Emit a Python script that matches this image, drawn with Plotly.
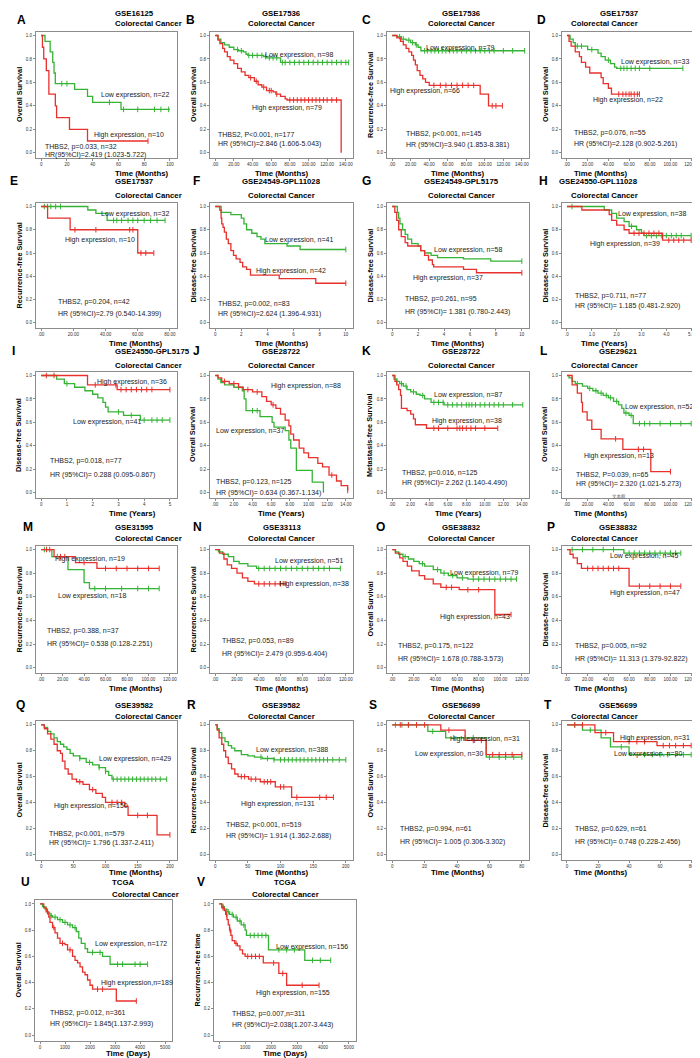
import plotly.graph_objects as go

# ---- survival step data: (time, survival) and censor times ----
A_low = [(0, 1), (3, .95), (7, .86), (9, .77), (10, .68), (11, .59), (26, .54), (36, .48), (40, .43), (62, .37), (100, .37)]
A_low_cens = [16, 20, 53, 64, 75, 88, 93, 99]
A_high = [(0, 1), (1, .9), (2, .8), (4, .7), (6, .5), (11, .4), (12, .3), (22, .2), (36, .1), (83, .1)]
A_high_cens = [83]

B_low = [(0, 1), (3, .97), (6, .94), (10, .92), (15, .9), (20, .88), (25, .87), (30, .86), (33, .84), (35, .83), (52, .82), (55, .81), (70, .77), (143, .77)]
B_low_cens = [24, 28, 36, 40, 45, 50, 54, 58, 62, 66, 72, 75, 80, 85, 90, 95, 100, 105, 110, 115, 120, 125, 130, 135, 140, 143]
B_high = [(0, 1), (3, .96), (5, .93), (8, .89), (10, .86), (13, .82), (16, .79), (20, .76), (24, .72), (28, .69), (32, .66), (36, .64), (42, .61), (46, .58), (50, .56), (55, .53), (62, .52), (65, .5), (70, .48), (75, .46), (77, .45), (135, .45), (135, 0)]
B_high_cens = [38, 44, 52, 58, 60, 66, 80, 84, 88, 92, 96, 100, 104, 108, 112, 116, 120, 125, 130]

C_low = [(0, 1), (5, .99), (10, .97), (15, .96), (20, .94), (25, .92), (28, .9), (31, .87), (143, .87)]
C_low_cens = [8, 12, 18, 22, 26, 35, 38, 42, 46, 50, 54, 58, 62, 66, 70, 75, 80, 85, 90, 95, 100, 105, 110, 120, 130, 143]
C_high = [(0, 1), (5, .98), (9, .95), (12, .92), (15, .89), (18, .86), (21, .83), (23, .79), (25, .75), (27, .7), (30, .66), (33, .63), (36, .6), (40, .575), (95, .575), (95, .5), (104, .4), (119, .4)]
C_high_cens = [45, 52, 58, 64, 70, 76, 82, 88, 108, 112, 119]

D_low = [(0, 1), (3, .97), (6, .94), (8, .91), (20, .88), (30, .85), (33, .82), (37, .79), (42, .76), (46, .73), (48, .72), (112, .72)]
D_low_cens = [10, 14, 24, 40, 52, 55, 58, 62, 66, 70, 80, 112]
D_high = [(0, 1), (2, .95), (4, .91), (8, .86), (12, .82), (14, .77), (18, .73), (22, .68), (33, .64), (35, .59), (40, .55), (43, .5), (70, .5)]
D_high_cens = [50, 54, 57, 60, 62, 65, 68, 70]

E_low = [(0, 1), (29, .97), (34, .94), (41, .88), (77, .88)]
E_low_cens = [2, 4, 6, 9, 12, 45, 47, 50, 54, 57, 60, 64, 68, 72, 77]
E_high = [(0, 1), (4, .9), (18, .8), (60, .6), (70, .6)]
E_high_cens = [21, 34, 55, 57, 62, 65, 70]

F_low = [(0, 1), (0.45, .95), (1.2, .93), (2, .9), (2.2, .85), (2.4, .8), (2.8, .77), (3.2, .74), (3.5, .72), (3.8, .68), (5.5, .66), (6.5, .63), (10, .63)]
F_low_cens = [10]
F_high = [(0, 1), (0.35, .97), (0.45, .9), (0.5, .85), (0.6, .82), (0.7, .78), (0.85, .72), (1.0, .68), (1.2, .62), (1.4, .58), (1.6, .55), (1.9, .52), (2.1, .48), (2.4, .46), (2.7, .41), (4.9, .38), (7.7, .34), (10, .34)]
F_high_cens = [10]

G_low = [(0, 1), (0.4, .95), (0.5, .9), (0.6, .85), (0.8, .8), (1, .76), (1.2, .72), (1.5, .68), (2, .66), (2.2, .62), (2.5, .6), (3, .58), (3.5, .56), (5.5, .55), (7.6, .53), (10, .53)]
G_low_cens = [10]
G_high = [(0, 1), (0.2, .95), (0.35, .88), (0.5, .8), (0.7, .74), (1.0, .69), (1.2, .66), (2.2, .62), (2.5, .58), (2.8, .54), (3.1, .5), (3.2, .48), (5.5, .46), (6.5, .43), (10, .43)]
G_high_cens = [10]

H_low = [(0, 1), (1.5, .97), (1.8, .94), (2.0, .9), (2.3, .87), (2.5, .83), (2.8, .8), (3.0, .77), (3.1, .75), (5, .75)]
H_low_cens = [0.2, 2.6, 3.2, 3.4, 3.6, 3.8, 4, 4.2, 4.4, 4.6, 5]
H_high = [(0, 1), (0.6, .97), (1.7, .93), (1.8, .88), (2.0, .84), (2.3, .8), (2.5, .77), (3.85, .71), (5, .71)]
H_high_cens = [2.7, 2.9, 3.1, 3.3, 3.5, 3.7, 4.1, 4.3, 4.5, 4.7, 5]

I_low = [(0, 1), (0.6, .97), (0.9, .93), (1.3, .9), (1.7, .87), (2, .84), (2.2, .81), (2.4, .77), (2.5, .73), (2.6, .69), (3.2, .66), (3.85, .62), (5, .62)]
I_low_cens = [1.0, 3.0, 3.5, 4.0, 4.3, 4.5, 4.7, 5]
I_high = [(0, 1), (1.8, .92), (2.95, .88), (5, .88)]
I_high_cens = [0.2, 0.5, 2.1, 2.9, 3.1, 3.3, 3.5, 3.7, 3.9, 4.1, 4.3, 5]

J_low = [(0, 1), (0.3, .97), (0.6, .94), (1, .92), (2, .9), (2.9, .87), (3.1, .8), (3.3, .7), (4.8, .65), (6.1, .6), (6.3, .56), (7.5, .53), (7.9, .45), (8.1, .38), (8.7, .19), (10.4, .09), (11.6, .0)]
J_low_cens = [2.5, 4, 4.5]
J_high = [(0, 1), (0.3, .98), (0.7, .95), (1.5, .93), (2.5, .9), (3, .88), (4, .86), (5, .82), (5.5, .78), (6, .75), (6.5, .72), (7, .67), (7.5, .62), (7.9, .57), (8.1, .5), (8.4, .45), (9, .38), (9.5, .34), (10, .3), (11, .25), (11.5, .22), (12.2, .15), (13, .1), (13.5, .06), (14.2, .02)]
J_high_cens = [1, 2, 3.5, 4.5, 6.2, 12.5, 14.2]

K_low = [(0, 1), (0.2, .97), (0.5, .95), (0.8, .93), (1.2, .91), (1.6, .88), (2, .86), (2.6, .84), (3, .83), (3.5, .8), (4.2, .77), (5.6, .75), (14.1, .75)]
K_low_cens = [0.5, 1, 1.5, 2.3, 3.3, 4.5, 5, 5.5, 6, 6.5, 7, 7.5, 8, 8.3, 8.6, 9, 9.5, 10, 10.5, 11, 11.5, 12, 13, 14.1]
K_high = [(0, 1), (0.3, .95), (0.5, .92), (0.7, .88), (0.9, .83), (1.0, .72), (1.6, .7), (2.0, .67), (2.3, .63), (2.5, .58), (3.7, .55), (11.4, .55)]
K_high_cens = [4.5, 5, 6, 7, 7.3, 7.6, 8, 8.5, 9, 10, 11.4]

L_low = [(0, 1), (2, .98), (5, .95), (8, .93), (15, .91), (20, .89), (25, .87), (30, .85), (35, .83), (40, .81), (45, .78), (50, .75), (53, .72), (55, .68), (60, .66), (64, .59), (120, .59)]
L_low_cens = [10, 22, 28, 33, 38, 42, 48, 57, 62, 70, 75, 80, 90, 100, 110, 120]
L_high = [(0, 1), (5, .92), (10, .85), (14, .77), (15, .69), (19.5, .62), (24, .54), (33, .46), (54, .37), (81, .18), (100, .18)]
L_high_cens = [47, 69, 74, 100]

M_low = [(0, 1), (10, .94), (25, .83), (40, .72), (45, .67), (110, .67)]
M_low_cens = [3, 15, 50, 60, 75, 90, 100, 110]
M_high = [(0, 1), (12, .94), (32, .89), (52, .84), (110, .84)]
M_high_cens = [5, 8, 18, 22, 40, 60, 70, 80, 90, 100, 110]

N_low = [(0, 1), (3, .98), (7, .96), (12, .94), (17, .9), (22, .88), (30, .86), (38, .84), (115, .84)]
N_low_cens = [40, 45, 50, 55, 60, 65, 70, 75, 80, 85, 90, 95, 100, 105, 115]
N_high = [(0, 1), (4, .97), (8, .92), (11, .87), (15, .84), (20, .8), (25, .76), (30, .73), (36, .71), (65, .71)]
N_high_cens = [40, 45, 50, 55, 60, 65]

O_low = [(0, 1), (3, .98), (6, .96), (10, .94), (15, .92), (20, .9), (25, .88), (30, .86), (38, .83), (45, .8), (52, .78), (60, .76), (70, .75), (115, .75)]
O_low_cens = [12, 28, 42, 48, 56, 65, 75, 80, 85, 90, 95, 100, 105, 110, 115]
O_high = [(0, 1), (3, .97), (7, .93), (10, .9), (14, .86), (18, .82), (25, .78), (30, .75), (38, .71), (45, .68), (62, .66), (95, .45), (110, .45)]
O_high_cens = [50, 55, 70, 80, 110]

P_low = [(0, 1), (55, .97), (110, .97)]
P_low_cens = [5, 15, 25, 35, 45, 60, 65, 70, 75, 80, 85, 90, 95, 100, 105, 110]
P_high = [(0, 1), (3, .96), (6, .93), (10, .88), (14, .84), (58, .84), (60, .69), (110, .69)]
P_high_cens = [20, 25, 30, 35, 40, 45, 50, 70, 80, 90, 100, 110]

Q_low = [(0, 1), (5, .98), (10, .95), (15, .93), (20, .9), (25, .87), (30, .85), (35, .83), (40, .81), (45, .78), (50, .76), (60, .74), (70, .71), (80, .69), (90, .67), (100, .64), (105, .61), (110, .58), (195, .58)]
Q_low_cens = [60, 75, 90, 100, 112, 118, 124, 130, 136, 142, 148, 154, 160, 166, 172, 178, 185, 195]
Q_high = [(0, 1), (5, .97), (10, .93), (15, .89), (20, .85), (25, .8), (30, .78), (33, .72), (37, .66), (42, .62), (48, .58), (55, .56), (65, .54), (75, .5), (85, .47), (95, .44), (100, .4), (130, .37), (135, .3), (180, .15), (200, .15)]
Q_high_cens = [60, 80, 110, 118, 125, 150, 165, 200]

R_low = [(0, 1), (3, .97), (6, .94), (10, .9), (15, .87), (20, .84), (25, .82), (30, .8), (40, .77), (50, .76), (60, .75), (72, .74), (90, .73), (200, .73)]
R_low_cens = [70, 80, 90, 100, 106, 112, 118, 124, 130, 136, 142, 148, 154, 160, 166, 172, 180, 190, 200]
R_high = [(0, 1), (3, .96), (6, .9), (10, .85), (13, .8), (16, .75), (20, .7), (25, .66), (30, .62), (35, .6), (51, .58), (69, .56), (92, .52), (117, .44), (181, .44)]
R_high_cens = [40, 45, 55, 62, 75, 80, 85, 100, 105, 125, 160, 170, 181]

S_low = [(0, 1), (22, .95), (33, .9), (58, .75), (80, .75)]
S_low_cens = [2, 6, 10, 15, 25, 38, 45, 50, 60, 66, 70, 75, 80]
S_high = [(0, 1), (30, .96), (45, .88), (58, .77), (80, .77)]
S_high_cens = [5, 10, 15, 20, 35, 50, 55, 62, 66, 70, 74, 80]

T_low = [(0, 1), (10, .96), (22, .9), (28, .83), (40, .77), (80, .77)]
T_low_cens = [5, 15, 35, 50, 55, 60, 65, 70, 75, 80]
T_high = [(0, 1), (18, .94), (30, .87), (58, .84), (80, .84)]
T_high_cens = [5, 10, 25, 40, 45, 50, 62, 66, 70, 75, 80]

U_low = [(0, 1), (100, .98), (200, .96), (300, .93), (400, .91), (500, .9), (700, .88), (900, .86), (1100, .84), (1300, .82), (1450, .79), (1550, .74), (1650, .7), (1800, .66), (1900, .63), (2500, .6), (2800, .54), (4300, .54)]
U_low_cens = [250, 450, 600, 800, 1000, 1200, 1400, 2100, 2400, 3100, 3300, 3800, 4000, 4300]
U_high = [(0, 1), (150, .97), (250, .94), (350, .9), (400, .86), (500, .82), (600, .78), (700, .74), (800, .7), (1000, .69), (1100, .65), (1300, .6), (1400, .57), (1500, .55), (1600, .52), (1700, .48), (1800, .46), (1900, .42), (2000, .38), (2100, .35), (3050, .26), (3850, .26)]
U_high_cens = [300, 550, 900, 1200, 2300, 2500, 3850]

V_low = [(0, 1), (100, .98), (200, .96), (300, .94), (400, .92), (550, .9), (700, .87), (850, .84), (1000, .8), (1050, .76), (1900, .65), (3300, .57), (4300, .57)]
V_low_cens = [150, 350, 500, 650, 800, 950, 1200, 1350, 1500, 1650, 1800, 2300, 2600, 2900, 3600, 3900, 4300]
V_high = [(0, 1), (100, .97), (200, .95), (250, .92), (300, .88), (350, .84), (400, .8), (450, .76), (500, .72), (600, .7), (700, .68), (800, .65), (900, .62), (1000, .6), (1700, .55), (2300, .47), (2600, .38), (3850, .38)]
V_high_cens = [150, 280, 420, 650, 1100, 1250, 1400, 1550, 2100, 2450, 3200, 3850]

letters = list("ABCDEFGHIJKLMNOPQRSTUV")
titles = ["GSE16125", "GSE17536", "GSE17536", "GSE17537", "GSE17537", "GSE24549-GPL11028",
          "GSE24549-GPL5175", "GSE24550-GPL11028", "GSE24550-GPL5175", "GSE28722", "GSE28722",
          "GSE29621", "GSE31595", "GSE33113", "GSE38832", "GSE38832", "GSE39582", "GSE39582",
          "GSE56699", "GSE56699", "TCGA", "TCGA"]
subtitle = "Colorectal Cancer"
ylabels = ["Overall Survival", "Overall Survival", "Recurrence-free Survival", "Overall Survival",
           "Recurrence-free Survival", "Disease-free Survival", "Disease-free Survival",
           "Disease-free Survival", "Disease-free Survival", "Overall Survival",
           "Metastasis-free Survival", "Overall Survival", "Recurrence-free Survival",
           "Recurrence-free Survival", "Overall Survival", "Disease-free Survival",
           "Overall Survival", "Recurrence-free Survival", "Overall Survival",
           "Disease-free Survival", "Overall Survival", "Recurrence-free time"]
xlabels = ["Time (Months)"] * 7 + ["Time (Years)"] * 4 + ["Time (Months)"] * 9 + ["Time (Days)"] * 2
low_texts = ["Low expression, n=22", "Low expression, n=98", "Low expression, n=79", "Low expression, n=33",
             "Low expression, n=32", "Low expression, n=41", "Low expression, n=58", "Low expression, n=38",
             "Low expression, n=41", "Low expression, n=37", "Low expression, n=87", "Low expression, n=52",
             "Low expression, n=18", "Low expression, n=51", "Low expression, n=79", "Low expression, n=45",
             "Low expression, n=429", "Low expression, n=388", "Low expression, n=30", "Low expression, n=30",
             "Low expression, n=172", "Low expression, n=156"]
high_texts = ["High expression, n=10", "High expression, n=79", "High expression, n=66", "High expression, n=22",
              "High expression, n=10", "High expression, n=42", "High expression, n=37", "High expression, n=39",
              "High expression, n=36", "High expression, n=88", "High expression, n=38", "High expression, n=13",
              "High expression, n=19", "High expression, n=38", "High expression, n=43", "High expression, n=47",
              "High expression, n=150", "High expression, n=131", "High expression, n=31", "High expression, n=31",
              "High expression,n=189", "High expression, n=155"]
stat_texts = ["THBS2, p=0.033, n=32", "THBS2, P<0.001, n=177", "THBS2, p<0.001, n=145", "THBS2, p=0.076, n=55",
              "THBS2, p=0.204, n=42", "THBS2, p=0.002, n=83", "THBS2, p=0.261, n=95", "THBS2, p=0.711, n=77",
              "THBS2, p=0.018, n=77", "THBS2, p=0.123, n=125", "THBS2, p=0.016, n=125", "THBS2, P=0.039, n=65",
              "THBS2, p=0.388, n=37", "THBS2, p=0.053, n=89", "THBS2, p=0.175, n=122", "THBS2, p=0.005, n=92",
              "THBS2, p<0.001, n=579", "THBS2, p<0.001, n=519", "THBS2, p=0.994, n=61", "THBS2, p=0.629, n=61",
              "THBS2, p=0.012, n=361", "THBS2, p=0.007,n=311"]
hr_texts = ["HR(95%CI)=2.419 (1.023-5.722)", "HR (95%CI)=2.846 (1.606-5.043)", "HR (95%CI)=3.940 (1.853-8.381)",
            "HR (95%CI)=2.128 (0.902-5.261)", "HR (95%CI)=2.79 (0.540-14.399)", "HR (95%CI)=2.624 (1.396-4.931)",
            "HR (95%CI)= 1.381 (0.780-2.443)", "HR (95%CI)= 1.185 (0.481-2.920)", "HR (95%CI)= 0.288 (0.095-0.867)",
            "HR (95%CI)= 0.634 (0.367-1.134)", "HR (95%CI)= 2.262 (1.140-4.490)", "HR (95%CI)= 2.320 (1.021-5.273)",
            "HR (95%CI)= 0.538 (0.128-2.251)", "HR (95%CI)= 2.479 (0.959-6.404)", "HR (95%CI)= 1.678 (0.788-3.573)",
            "HR (95%CI)= 11.313 (1.379-92.822)", "HR (95%CI)= 1.796 (1.337-2.411)", "HR (95%CI)= 1.914 (1.362-2.688)",
            "HR (95%CI)= 1.005 (0.306-3.302)", "HR (95%CI)= 0.748 (0.228-2.456)", "HR (95%CI)= 1.845(1.137-2.993)",
            "HR (95%CI)=2.038(1.207-3.443)"]
xtick_max = [100, 140, 140, 120, 80, 10, 10, 5, 5, 14, 14, 120, 120, 120, 120, 120, 200, 200, 80, 80, 5000, 5000]
xtick_step = [20, 20, 20, 20, 20, 2, 2, 1, 1, 2, 2, 20, 20, 20, 20, 20, 50, 50, 20, 20, 1000, 1000]
xtick_fmt = ["int", "dec2", "dec2", "dec2", "dec2", "int", "int", "dec1", "int", "dec2", "dec2", "dec2",
             "dec2", "dec2", "dec2", "dec2", "int", "int", "int", "int", "int", "int"]
ytick_vals = [0, 0.2, 0.4, 0.6, 0.8, 1.0]
ytick_text = ["0.0", "0.2", "0.4", "0.6", "0.8", "1.0"]

curves = [(A_low, A_low_cens, A_high, A_high_cens), (B_low, B_low_cens, B_high, B_high_cens),
          (C_low, C_low_cens, C_high, C_high_cens), (D_low, D_low_cens, D_high, D_high_cens),
          (E_low, E_low_cens, E_high, E_high_cens), (F_low, F_low_cens, F_high, F_high_cens),
          (G_low, G_low_cens, G_high, G_high_cens), (H_low, H_low_cens, H_high, H_high_cens),
          (I_low, I_low_cens, I_high, I_high_cens), (J_low, J_low_cens, J_high, J_high_cens),
          (K_low, K_low_cens, K_high, K_high_cens), (L_low, L_low_cens, L_high, L_high_cens),
          (M_low, M_low_cens, M_high, M_high_cens), (N_low, N_low_cens, N_high, N_high_cens),
          (O_low, O_low_cens, O_high, O_high_cens), (P_low, P_low_cens, P_high, P_high_cens),
          (Q_low, Q_low_cens, Q_high, Q_high_cens), (R_low, R_low_cens, R_high, R_high_cens),
          (S_low, S_low_cens, S_high, S_high_cens), (T_low, T_low_cens, T_high, T_high_cens),
          (U_low, U_low_cens, U_high, U_high_cens), (V_low, V_low_cens, V_high, V_high_cens)]

# ---- layout geometry (pixels) ----
W, H = 700, 1058
col_x = [(28, 169), (202, 345), (379, 521), (554, 690)]
title_dx = [6, 0, 3, 10]
row_y = [(24, 150), (195, 320), (364, 490), (538, 665), (713, 852), (892, 1033)]
gse_y = [5, 173, 343, 519, 697, 874]
cc_y = [15, 187, 357, 530, 708, 886]
letter_y = [12, 173, 343, 519, 697, 874]
letter_x = [13, 182, 358, 533, 6, 188, 358, 535, 5, 188, 358, 535, 20, 190, 372, 543, 12, 183, 365, 540, 17, 193]
# text anchors as fractions of each plot box: low(x,y), high(x,y), stat(x,y), hr y
txt_pos = [(0.45, 0.50, 0.40, 0.18, 0.05, 0.09, 0.025), (0.37, 0.82, 0.28, 0.40, 0.04, 0.19, 0.11),
           (0.26, 0.875, 0.01, 0.53, 0.12, 0.19, 0.10), (0.42, 0.76, 0.21, 0.46, 0.07, 0.195, 0.11),
           (0.45, 0.91, 0.19, 0.70, 0.14, 0.21, 0.11), (0.37, 0.70, 0.31, 0.46, 0.04, 0.195, 0.11),
           (0.32, 0.62, 0.17, 0.40, 0.11, 0.23, 0.13), (0.40, 0.91, 0.19, 0.67, 0.08, 0.26, 0.18),
           (0.25, 0.60, 0.42, 0.92, 0.085, 0.29, 0.18), (0.03, 0.53, 0.41, 0.89, 0.03, 0.13, 0.04),
           (0.32, 0.82, 0.30, 0.61, 0.09, 0.20, 0.12), (0.45, 0.72, 0.15, 0.33, 0.09, 0.19, 0.115),
           (0.14, 0.61, 0.12, 0.90, 0.065, 0.33, 0.23), (0.44, 0.88, 0.47, 0.70, 0.07, 0.25, 0.15),
           (0.43, 0.79, 0.36, 0.44, 0.06, 0.21, 0.11), (0.34, 0.92, 0.34, 0.63, 0.08, 0.21, 0.11),
           (0.43, 0.73, 0.11, 0.39, 0.08, 0.19, 0.12), (0.31, 0.79, 0.20, 0.40, 0.10, 0.25, 0.17),
           (0.18, 0.76, 0.43, 0.87, 0.08, 0.22, 0.13), (0.37, 0.76, 0.41, 0.88, 0.08, 0.22, 0.13),
           (0.42, 0.69, 0.47, 0.41, 0.095, 0.20, 0.12), (0.42, 0.67, 0.28, 0.34, 0.11, 0.19, 0.11)]

GREEN = "#35b335"
RED = "#e8302c"
FONT = "Liberation Sans, Arial, sans-serif"


def step_at(pairs, t):
    y = pairs[0][1]
    for tt, s in pairs:
        if tt <= t:
            y = s
    return y


def fmt_tick(v, style):
    if style == "dec2":
        return ".00" if v == 0 else f"{v:.2f}"
    if style == "dec1":
        return ".0" if v == 0 else f"{v:.1f}"
    return str(int(v))


fig = go.Figure()
annotations = []
layout = {}

for i in range(22):
    n = i + 1
    xa = "x" if n == 1 else f"x{n}"
    ya = "y" if n == 1 else f"y{n}"
    row = i // 4
    col = i % 4
    if row == 5:
        l, r = [(27, 164), (206, 348)][col]
    else:
        l, r = col_x[col]
    t, b = row_y[row]

    low, low_c, high, high_c = curves[i]
    for pairs, cens, c in [(low, low_c, GREEN), (high, high_c, RED)]:
        fig.add_trace(go.Scatter(x=[p[0] for p in pairs], y=[p[1] for p in pairs], mode="lines",
                                 line=dict(color=c, width=1.3, shape="hv"),
                                 xaxis=xa, yaxis=ya, showlegend=False, hoverinfo="skip"))
        fig.add_trace(go.Scatter(x=cens, y=[step_at(pairs, ct) for ct in cens], mode="markers",
                                 marker=dict(symbol="line-ns-open", size=4, color=c,
                                             line=dict(color=c, width=1)),
                                 xaxis=xa, yaxis=ya, showlegend=False, hoverinfo="skip"))

    xmax = xtick_max[i]
    tv = [k * xtick_step[i] for k in range(int(round(xmax / xtick_step[i])) + 1)]
    axis_common = dict(showline=True, mirror=True, linecolor="#8c8c8c", linewidth=1, ticks="outside",
                       ticklen=2, tickcolor="#8c8c8c", showgrid=False, zeroline=False,
                       tickfont=dict(size=4.5, color="#333", family=FONT))
    layout[f"xaxis{n}"] = dict(domain=[l / W, r / W], anchor=ya, range=[-0.04 * xmax, 1.055 * xmax],
                               tickvals=tv, ticktext=[fmt_tick(v, xtick_fmt[i]) for v in tv], **axis_common)
    layout[f"yaxis{n}"] = dict(domain=[1 - b / H, 1 - t / H], anchor=xa, range=[-0.045, 1.03],
                               tickvals=ytick_vals, ticktext=ytick_text, **axis_common)

    cpx = (l + r) / 2
    tx = (cpx + title_dx[col]) / W
    annotations += [
        dict(x=letter_x[i] / W, y=1 - letter_y[row] / H, text=f"<b>{letters[i]}</b>", xref="paper", yref="paper",
             showarrow=False, font=dict(size=12, family=FONT, color="black"), xanchor="center", yanchor="middle"),
        dict(x=tx, y=1 - gse_y[row] / H, text=f"<b>{titles[i]}</b>", xref="paper", yref="paper",
             showarrow=False, font=dict(size=7.8, family=FONT, color="black"), yanchor="middle"),
        dict(x=tx, y=1 - cc_y[row] / H, text=f"<b>{subtitle}</b>", xref="paper", yref="paper",
             showarrow=False, font=dict(size=7.8, family=FONT, color="black"), yanchor="middle"),
        dict(x=(l - 17) / W, y=1 - (t + b) / 2 / H, text=f"<b>{ylabels[i]}</b>", xref="paper", yref="paper",
             textangle=-90, showarrow=False, xanchor="center", yanchor="middle",
             font=dict(size=7.3, family=FONT, color="black")),
        dict(x=(cpx + (6 if col == 0 and row == 0 else 0)) / W, y=1 - (b + (12 if row >= 4 else 15)) / H,
             text=f"<b>{xlabels[i]}</b>", xref="paper", yref="paper", showarrow=False,
             font=dict(size=7.8, family=FONT, color="black"), yanchor="middle"),
    ]
    lfx, lfy, hfx, hfy, sfx, sfy, hry = txt_pos[i]
    for txt, fx, fy in [(low_texts[i], lfx, lfy), (high_texts[i], hfx, hfy),
                        (stat_texts[i], sfx, sfy), (hr_texts[i], sfx, hry)]:
        annotations.append(dict(x=fx, y=fy, xref=f"{xa} domain", yref=f"{ya} domain", text=txt,
                                showarrow=False, xanchor="left", yanchor="middle",
                                font=dict(size=7, family=FONT, color="#1a1a1a")))
    if letters[i] == "L":
        annotations.append(dict(x=0.42, y=0.01, xref=f"{xa} domain", yref=f"{ya} domain", text="文本框",
                                showarrow=False, yanchor="middle",
                                font=dict(size=4.5, family="Noto Sans CJK SC", color="#666")))

fig.update_layout(width=W, height=H, margin=dict(l=0, r=0, t=0, b=0), paper_bgcolor="white",
                  plot_bgcolor="white", showlegend=False, annotations=annotations, **layout)

fig.write_html("out.html")
